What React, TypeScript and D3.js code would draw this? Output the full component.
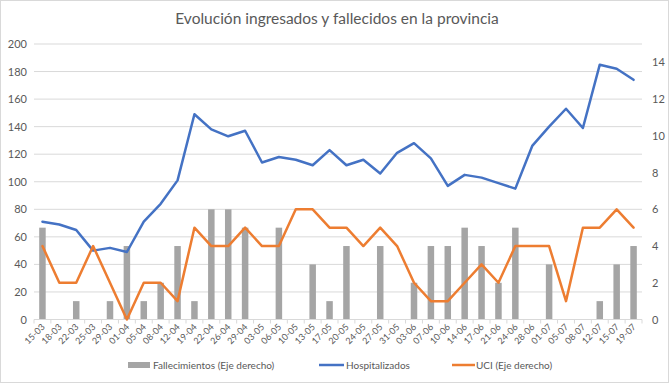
import React from "react";
import * as d3 from "d3";

const categories = ["15-03","18-03","22-03","25-03","29-03","01-04","05-04","08-04","12-04","19-04","22-04","26-04","29-04","03-05","06-05","10-05","13-05","17-05","20-05","24-05","27-05","31-05","03-06","07-06","10-06","14-06","17-06","21-06","24-06","28-06","01-07","05-07","08-07","12-07","15-07","19-07"];
const fallecimientos = [5,0,1,0,1,4,1,2,4,1,6,6,5,0,5,0,3,1,4,0,4,0,2,4,4,5,4,2,5,0,3,0,0,1,3,4];
const hospitalizados = [71,69,65,50,52,49,71,84,101,149,138,133,137,114,118,116,112,123,112,116,106,121,128,117,97,105,103,99,95,126,140,153,139,185,182,174];
const uci = [4,2,2,4,2,0,2,2,1,5,4,4,5,4,4,6,6,5,5,4,5,4,2,1,1,2,3,2,4,4,4,1,5,5,6,5];
const leftTicks = [0,20,40,60,80,100,120,140,160,180,200];
const rightTicks = [0,2,4,6,8,10,12,14];

const W = 670, H = 384;
const M = { left: 34, right: 642, top: 44, bottom: 319.5 };
const TXT = "#595959";
const FONT = "Lato, 'Open Sans', sans-serif";

export default function App() {
  const xc = d3.scaleBand<string>().domain(categories).range([M.left, M.right]);
  const yL = d3.scaleLinear().domain([0, 200]).range([M.bottom, M.top]);
  const yR = d3.scaleLinear().domain([0, 15]).range([M.bottom, M.top]);
  const center = (c: string) => (xc(c) as number) + xc.bandwidth() / 2;
  const lineL = d3.line<number>().x((_, i) => center(categories[i])).y((d) => yL(d));
  const lineR = d3.line<number>().x((_, i) => center(categories[i])).y((d) => yR(d));
  const bw = 6.5;

  return (
    <div style={{ position: "absolute", left: 0, top: 0 }}>
      <svg width={W} height={H} style={{ display: "block", background: "#fff" }}>
        <rect x={0.5} y={0.5} width={W - 2} height={H - 2} fill="#fff" stroke="#d9d9d9" />
        <text x={337} y={24} textAnchor="middle" fontFamily={FONT} fontSize={15.5} fill={TXT}>
          Evolución ingresados y fallecidos en la provincia
        </text>
        {leftTicks.map((t) => (
          <g key={"l" + t}>
            {t > 0 && <line x1={M.left} x2={M.right} y1={yL(t)} y2={yL(t)} stroke="#d9d9d9" strokeWidth={1} />}
            <text x={27} y={yL(t) + 4} textAnchor="end" fontFamily={FONT} fontSize={11} fill={TXT}>{t}</text>
          </g>
        ))}
        {rightTicks.map((t) => (
          <text key={"r" + t} x={652} y={yR(t) + 4} textAnchor="start" fontFamily={FONT} fontSize={11} fill={TXT}>{t}</text>
        ))}
        {fallecimientos.map((v, i) => (
          <rect key={"b" + i} x={center(categories[i]) - bw / 2} y={yR(v)} width={bw} height={M.bottom - yR(v)} fill="#a5a5a5" />
        ))}
        <line x1={M.left} x2={M.right} y1={M.bottom} y2={M.bottom} stroke="#d9d9d9" />
        {categories.map((c, i) => (
          <line key={"t" + i} x1={xc(c) as number} x2={xc(c) as number} y1={M.bottom} y2={M.bottom + 4} stroke="#d9d9d9" />
        ))}
        <line x1={M.right} x2={M.right} y1={M.bottom} y2={M.bottom + 4} stroke="#d9d9d9" />
        {categories.map((c) => (
          <text key={"x" + c} transform={`translate(${center(c) + 3},${M.bottom + 8}) rotate(-45)`} textAnchor="end" fontFamily={FONT} fontSize={9} fill={TXT}>{c}</text>
        ))}
        <path d={lineL(hospitalizados) || ""} fill="none" stroke="#4472c4" strokeWidth={2.5} strokeLinejoin="round" strokeLinecap="round" />
        <path d={lineR(uci) || ""} fill="none" stroke="#ed7d31" strokeWidth={2.5} strokeLinejoin="round" strokeLinecap="round" />
        <g fontFamily={FONT} fontSize={10} fill={TXT}>
          <rect x={128} y={362} width={22} height={6} fill="#a5a5a5" />
          <text x={153} y={369}>Fallecimientos (Eje derecho)</text>
          <line x1={319} x2={344} y1={365} y2={365} stroke="#4472c4" strokeWidth={2.5} />
          <text x={346} y={369}>Hospitalizados</text>
          <line x1={452} x2={475} y1={365} y2={365} stroke="#ed7d31" strokeWidth={2.5} />
          <text x={476} y={369}>UCI (Eje derecho)</text>
        </g>
      </svg>
    </div>
  );
}
